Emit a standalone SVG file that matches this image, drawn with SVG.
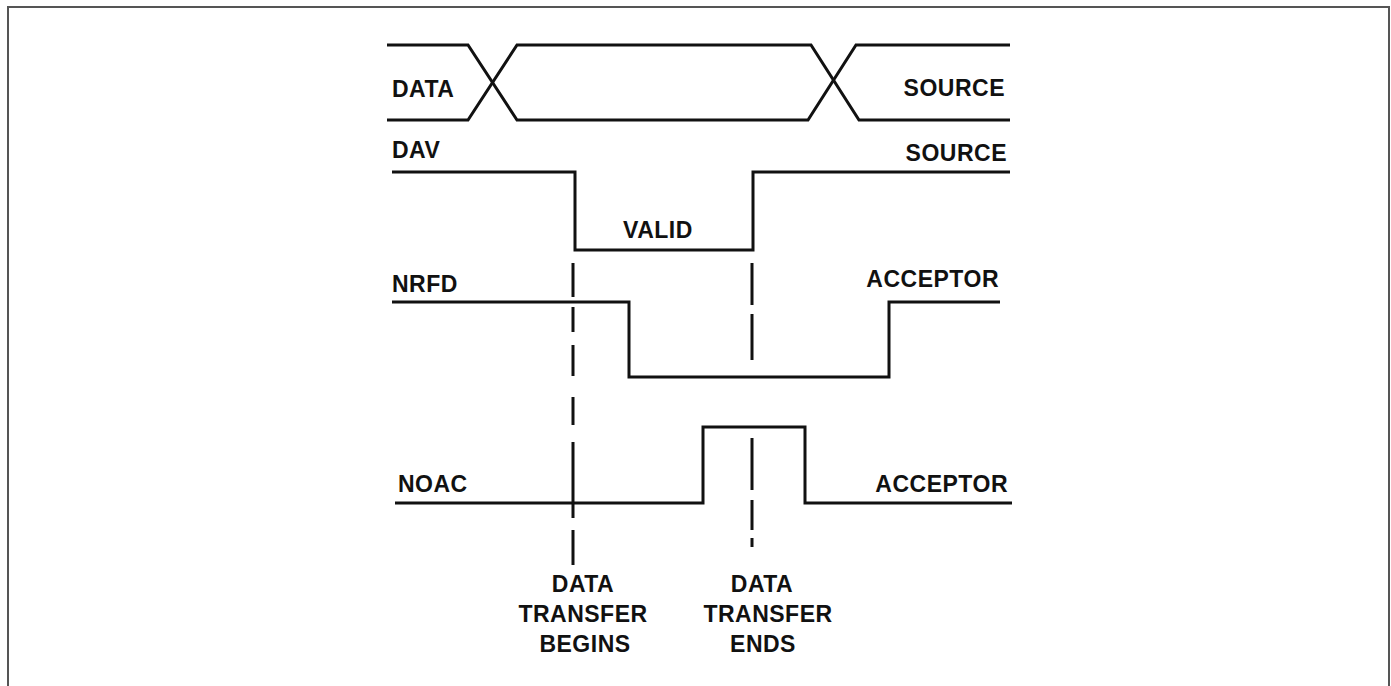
<svg xmlns="http://www.w3.org/2000/svg" width="1391" height="686" viewBox="0 0 1391 686">
<style>
.sig{fill:none;stroke:#111;stroke-width:3;stroke-linejoin:miter;stroke-linecap:butt}
.dash{fill:none;stroke:#111;stroke-width:3}
.t{font-family:"Liberation Sans",Arial,Helvetica,sans-serif;font-weight:bold;font-size:23px;fill:#111;letter-spacing:0.5px}
.r{text-anchor:end}
.c{text-anchor:middle}
</style>
<rect width="1391" height="686" fill="#fff"/>
<path d="M8 686 V7 H1389 V686" fill="none" stroke="#555" stroke-width="2"/>
<g id="data">
<path class="sig" d="M387 45 H468 L517 120 H808 L856 45 H1010"/>
<path class="sig" d="M387 120 H468 L517 45 H811 L859 120 H1010"/>
<text class="t" x="392" y="97">DATA</text>
<text class="t r" x="1005" y="96">SOURCE</text>
</g>
<g id="dav">
<path class="sig" d="M392 172 H575 V250 H753 V172 H1010"/>
<text class="t" x="392" y="158">DAV</text>
<text class="t r" x="1007" y="161">SOURCE</text>
<text class="t" x="623" y="238">VALID</text>
</g>
<g id="nrfd">
<path class="sig" d="M392 302 H629 V377 H889 V302 H1000"/>
<text class="t" x="392" y="292">NRFD</text>
<text class="t r" x="999" y="287">ACCEPTOR</text>
</g>
<g id="noac">
<path class="sig" d="M395 503 H703 V427 H805 V503 H1012"/>
<text class="t" x="398" y="492">NOAC</text>
<text class="t r" x="1008" y="492">ACCEPTOR</text>
</g>
<g id="connectors">
<path class="dash" d="M573 263 V297 M573 307 V332 M573 345 V376 M573 397 V425 M573 442 V518 M573 530 V565"/>
<path class="dash" d="M752 263 V305 M752 314 V360 M752 438 V490 M752 500 V530 M752 538 V547"/>
</g>
<g id="label-begins">
<text class="t c" x="583" y="592">DATA</text>
<text class="t c" x="583" y="622">TRANSFER</text>
<text class="t c" x="585" y="652">BEGINS</text>
</g>
<g id="label-ends">
<text class="t c" x="762" y="592">DATA</text>
<text class="t c" x="768" y="622">TRANSFER</text>
<text class="t c" x="763" y="652">ENDS</text>
</g>
</svg>
